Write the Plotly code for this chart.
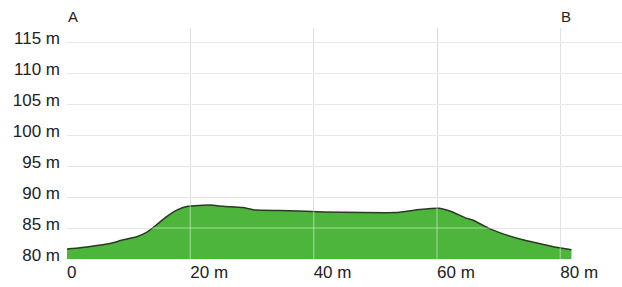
import plotly.graph_objects as go

distance_m = [0, 2.1, 4.3, 7.0, 9.1, 11.3, 12.9, 14.5, 16.1, 17.8, 19.6, 23.2, 25.3, 28.5, 30.7,
              36.1, 41.5, 48.0, 53.4, 57.2, 60.4, 62.5, 64.7, 65.8, 68.5, 71.2, 73.9, 76.6, 79.3, 81.8]
elevation_m = [81.6, 81.8, 82.1, 82.5, 83.1, 83.6, 84.3, 85.5, 86.8, 87.9, 88.5, 88.7, 88.5, 88.3, 87.9,
               87.8, 87.6, 87.5, 87.5, 88.0, 88.2, 87.6, 86.6, 86.3, 84.9, 83.9, 83.1, 82.5, 81.9, 81.5]

x_ticks = [0, 20, 40, 60, 80]
x_tick_labels = ["0", "20 m", "40 m", "60 m", "80 m"]
y_ticks = [80, 85, 90, 95, 100, 105, 110, 115]
y_tick_labels = [f"{v} m" for v in y_ticks]
end_labels = ["A", "B"]
end_positions = [0, 80]

fig = go.Figure()
fig.add_trace(go.Scatter(
    x=distance_m, y=elevation_m, mode="lines",
    line=dict(color="#2b3a22", width=1.5, shape="spline", smoothing=0.4),
    fill="tozeroy", fillcolor="#4db43c", hoverinfo="skip"))

for v in y_ticks[1:]:
    fig.add_hline(y=v, layer="above", line=dict(color="rgba(255,255,255,0.35)", width=1.5))
for v in x_ticks[1:]:
    fig.add_vline(x=v, layer="above", line=dict(color="rgba(255,255,255,0.35)", width=1.5))

for lab, pos in zip(end_labels, end_positions):
    fig.add_annotation(x=pos, y=1, xref="x", yref="paper", text=lab, showarrow=False,
                       xanchor="left", yanchor="bottom", yshift=1, xshift=-1,
                       font=dict(family="Liberation Sans, Arial", size=15, color="#222"))

fig.update_layout(
    width=622, height=287, margin=dict(l=67, r=0, t=28, b=28, autoexpand=False),
    paper_bgcolor="white", plot_bgcolor="white", showlegend=False,
    font=dict(family="Liberation Sans, Arial", size=17, color="#222"),
    xaxis=dict(range=[0, 90], tickvals=x_ticks, ticktext=x_tick_labels, showgrid=True,
               gridcolor="#d0d0d0", gridwidth=1, zeroline=False, showline=False, ticks="",
               ticklabelposition="outside right", ticklabelstandoff=1, automargin=False),
    yaxis=dict(range=[80, 117.3], tickvals=y_ticks, ticktext=y_tick_labels, showgrid=True,
               gridcolor="#dcdcdc", gridwidth=1, zeroline=False, showline=False, ticks="",
               ticklabelstandoff=6, ticklabelshift=-4, automargin=False),
)

fig.write_html("out.html", config={"displayModeBar": False},
               post_script="document.body.style.margin='0';document.body.style.padding='0';")
